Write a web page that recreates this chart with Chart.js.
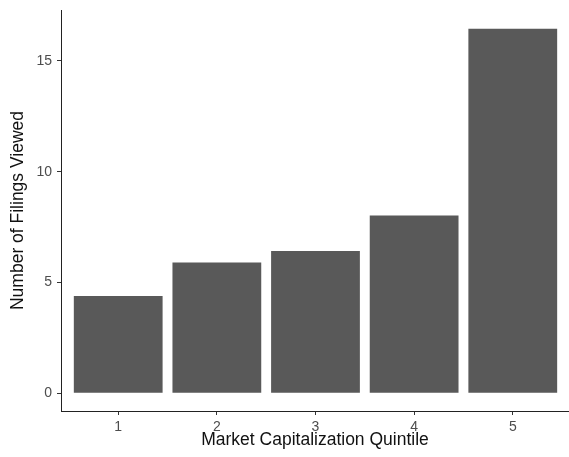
<!DOCTYPE html>
<html>
<head>
<meta charset="utf-8">
<script src="https://cdn.jsdelivr.net/npm/chart.js@4/dist/chart.umd.min.js"></script>
<style>
html,body{margin:0;padding:0;background:#fff;}
#wrap{width:569px;height:457px;position:relative;}
</style>
</head>
<body>
<div id="wrap"><canvas id="c"></canvas></div>
<script>
const categories = [1, 2, 3, 4, 5];
const tickLabels = ["1", "2", "3", "4", "5"];
const filingsViewed = [4.39, 5.90, 6.42, 8.02, 16.45];
const yTicks = [0, 5, 10, 15];
const xTitle = "Market Capitalization Quintile";
const yTitle = "Number of Filings Viewed";

const FONT = "'Liberation Sans', Arial, sans-serif";

new Chart(document.getElementById('c'), {
  type: 'bar',
  data: {
    datasets: [{
      data: categories.map((c, i) => ({ x: c, y: filingsViewed[i] })),
      backgroundColor: '#595959',
      borderWidth: 0,
      barPercentage: 1,
      categoryPercentage: 0.9
    }]
  },
  options: {
    responsive: true,
    maintainAspectRatio: false,
    animation: false,
    devicePixelRatio: 1,
    layout: { padding: { top: 10, right: 0, left: 0, bottom: 0 } },
    plugins: { legend: { display: false }, tooltip: { enabled: false } },
    scales: {
      x: {
        type: 'linear',
        offset: false,
        min: 0.42,
        max: 5.57,
        afterBuildTicks: s => { s.ticks = categories.map(v => ({ value: v })); },
        afterFit: s => { s.height = 46; s.paddingLeft = 0; s.paddingRight = 0; },
        ticks: {
          callback: (v) => tickLabels[categories.indexOf(v)],
          color: '#4d4d4d',
          font: { family: FONT, size: 14 },
          padding: 4,
          maxRotation: 0,
          autoSkip: false
        },
        grid: { display: true, offset: false, drawOnChartArea: false, drawTicks: true, tickLength: 4, tickColor: '#333', tickWidth: 1 },
        border: { display: true, color: '#222', width: 1 },
        title: { display: true, text: xTitle, color: '#111', font: { family: FONT, size: 17.5 }, padding: { top: 0, bottom: 6 } }
      },
      y: {
        type: 'linear',
        min: -0.8,
        max: 17.3,
        afterBuildTicks: s => { s.ticks = yTicks.map(v => ({ value: v })); },
        afterFit: s => { s.width = 61; s.paddingTop = 0; s.paddingBottom = 0; },
        ticks: {
          color: '#4d4d4d',
          font: { family: FONT, size: 14 },
          padding: 5
        },
        grid: { display: true, offset: false, drawOnChartArea: false, drawTicks: true, tickLength: 4, tickColor: '#333', tickWidth: 1 },
        border: { display: true, color: '#222', width: 1 },
        title: { display: true, text: yTitle, color: '#111', font: { family: FONT, size: 17.5 }, padding: { top: 8, bottom: 0 } }
      }
    }
  }
});
</script>
</body>
</html>
